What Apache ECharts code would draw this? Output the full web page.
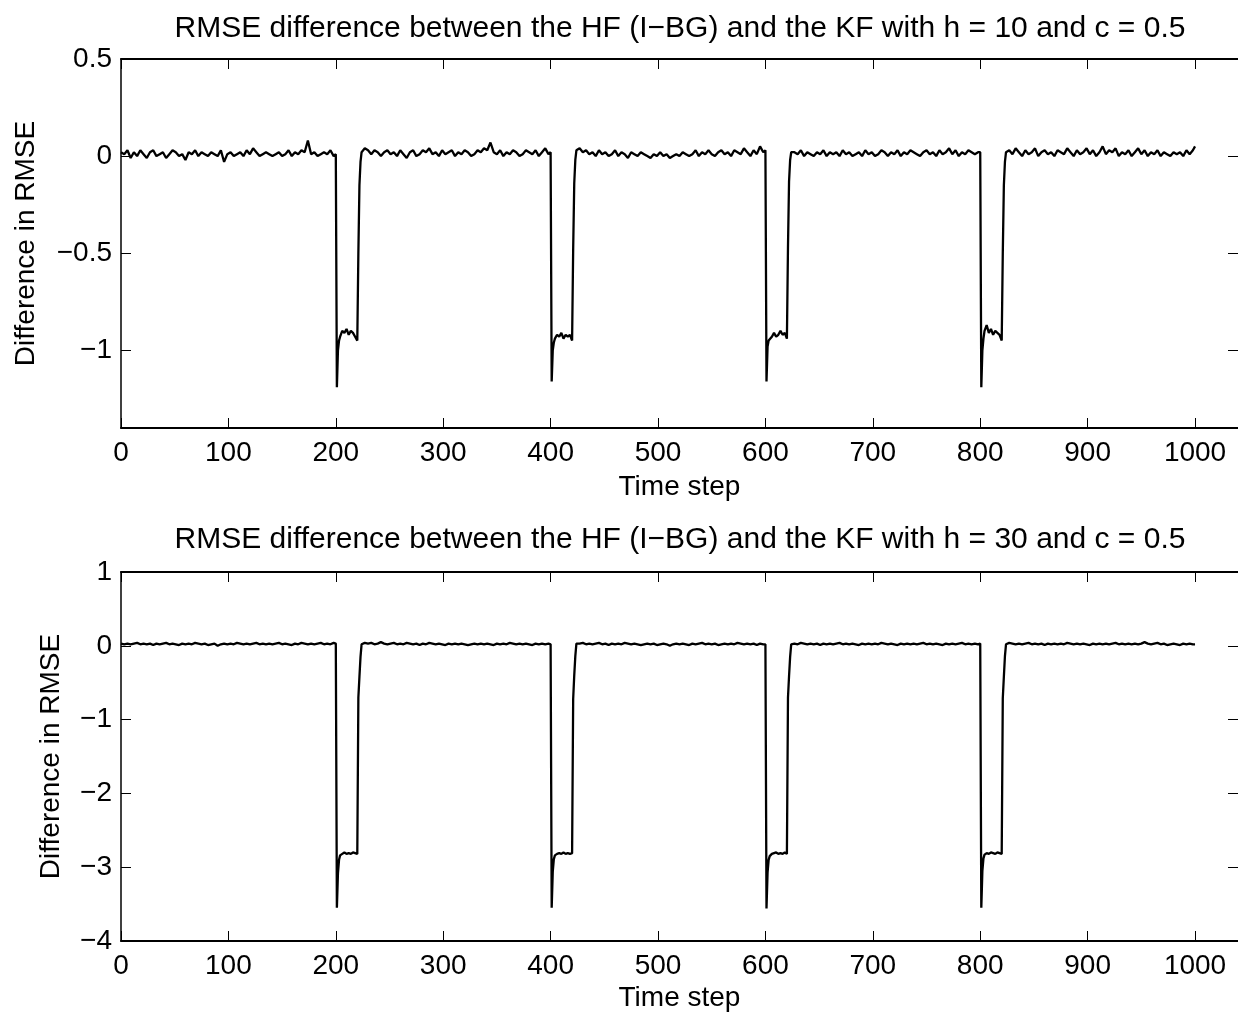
<!DOCTYPE html>
<html><head><meta charset="utf-8">
<script src="https://cdn.jsdelivr.net/npm/echarts@6/dist/echarts.min.js"></script>
<style>html,body{margin:0;padding:0;background:#fff}#c{width:1238px;height:1015px}</style>
</head><body><div id="c"></div>
<script>
const timeSteps=[0,3,6,9,12,15,18,21,24,27,30,33,36,39,42,45,48,51,54,57,60,63,66,69,72,75,78,81,84,87,90,93,96,99,102,105,108,111,114,117,120,123,126,129,132,135,138,141,144,147,150,153,156,159,162,165,168,171,174,177,180,183,186,189,192,195,198,
200,201,202,203,204,206,208,210,212,214,216,218,220,221,222,223,224,
227,230,233,236,239,242,245,248,251,254,257,260,263,266,269,272,275,278,281,284,287,290,293,296,299,302,305,308,311,314,317,320,323,326,329,332,335,338,341,344,347,350,353,356,359,362,365,368,371,374,377,380,383,386,389,392,395,398,
400,401,402,403,404,406,408,410,412,414,416,418,420,421,422,423,424,
427,430,433,436,439,442,445,448,451,454,457,460,463,466,469,472,475,478,481,484,487,490,493,496,499,502,505,508,511,514,517,520,523,526,529,532,535,538,541,544,547,550,553,556,559,562,565,568,571,574,577,580,583,586,589,592,595,598,
600,601,602,603,604,606,608,610,612,614,616,618,620,621,622,623,624,
627,630,633,636,639,642,645,648,651,654,657,660,663,666,669,672,675,678,681,684,687,690,693,696,699,702,705,708,711,714,717,720,723,726,729,732,735,738,741,744,747,750,753,756,759,762,765,768,771,774,777,780,783,786,789,792,795,798,
800,801,802,803,804,806,808,810,812,814,816,818,820,821,822,823,824,
827,830,833,836,839,842,845,848,851,854,857,860,863,866,869,872,875,878,881,884,887,890,893,896,899,902,905,908,911,914,917,920,923,926,929,932,935,938,941,944,947,950,953,956,959,962,965,968,971,974,977,980,983,986,989,992,995,998,1000];

const diffH10=[0.02,0.01,0.03,-0.01,0.02,0.00,0.03,0.01,-0.01,0.02,
0.03,0.00,0.01,0.02,-0.01,0.01,0.03,0.02,0.00,0.01,
-0.02,0.02,0.01,0.03,0.00,0.02,0.01,0.00,0.02,0.01,
0.00,0.03,-0.03,0.01,0.02,0.00,0.01,0.02,0.00,0.03,
0.01,0.04,0.02,0.00,0.01,0.02,0.01,0.00,0.01,0.02,
0.00,0.01,0.03,0.00,0.02,0.01,0.03,0.02,0.08,0.01,
0.02,0.00,0.01,0.02,0.01,0.03,0.00,
0.01,-1.19,-1.00,-0.95,-0.93,-0.90,-0.91,-0.89,-0.92,-0.90,-0.91,-0.93,-0.95,-0.50,-0.15,-0.03,0.02,
0.04,0.03,0.01,0.03,0.02,0.00,0.02,0.03,0.01,0.02,
0.00,0.03,0.01,-0.01,0.02,0.03,0.00,0.01,0.03,0.02,
0.04,0.01,0.02,0.00,0.03,0.01,0.02,0.03,0.00,0.02,
0.01,0.03,0.02,0.00,0.01,0.03,0.02,0.04,0.03,0.07,
0.02,0.01,0.03,0.00,0.02,0.01,0.03,0.02,0.00,0.01,
0.03,0.02,0.01,0.03,0.00,0.02,0.04,0.01,
0.02,-1.16,-1.00,-0.96,-0.94,-0.92,-0.93,-0.91,-0.94,-0.92,-0.93,-0.92,-0.95,-0.48,-0.14,-0.02,0.03,
0.04,0.02,0.03,0.01,0.02,0.00,0.03,0.01,0.02,0.00,
0.01,0.03,0.00,0.02,0.01,-0.01,0.02,0.01,0.00,0.02,
0.01,0.00,-0.01,0.01,0.00,0.02,0.00,0.01,-0.01,0.00,
0.01,0.00,0.02,0.01,0.00,0.01,0.03,0.00,0.02,0.01,
0.03,0.01,0.00,0.02,0.03,0.01,0.02,0.00,0.03,0.02,
0.01,0.04,0.02,0.00,0.03,0.01,0.05,0.02,
0.03,-1.16,-0.98,-0.95,-0.94,-0.93,-0.91,-0.93,-0.92,-0.90,-0.92,-0.91,-0.94,-0.47,-0.13,-0.02,0.02,
0.02,0.01,0.03,0.00,0.02,0.01,0.00,0.02,0.01,0.03,
0.00,0.02,0.01,0.02,0.00,0.03,0.01,0.02,0.00,0.01,
0.02,0.00,0.03,0.01,0.02,0.00,0.01,0.03,0.02,0.00,
0.02,0.01,0.03,0.00,0.02,0.01,0.03,0.02,0.01,0.00,
0.02,0.03,0.01,0.02,0.00,0.03,0.01,0.02,0.04,0.01,
0.03,0.00,0.02,0.01,0.03,0.02,0.01,0.02,
0.02,-1.19,-1.00,-0.94,-0.90,-0.87,-0.91,-0.89,-0.92,-0.90,-0.91,-0.92,-0.95,-0.50,-0.15,-0.03,0.02,
0.03,0.01,0.04,0.02,0.00,0.03,0.01,0.02,0.04,0.00,
0.02,0.03,0.01,0.02,0.00,0.03,0.02,0.01,0.04,0.02,
0.00,0.03,0.01,0.02,0.04,0.01,0.03,0.00,0.02,0.05,
0.01,0.03,0.02,0.04,0.00,0.02,0.01,0.03,0.00,0.02,
0.04,0.01,0.03,0.00,0.02,0.01,0.03,0.00,0.02,0.01,
0.00,0.02,0.01,0.02,0.00,0.03,0.01,0.03,0.05];

const diffH30=[0.03,0.02,0.03,0.02,0.03,0.04,0.02,0.03,0.02,0.03,
0.01,0.03,0.02,0.03,0.04,0.02,0.03,0.02,0.01,0.03,
0.02,0.03,0.02,0.04,0.03,0.02,0.03,0.01,0.02,0.03,
0.00,0.02,0.03,0.02,0.03,0.02,0.04,0.03,0.02,0.03,
0.02,0.03,0.04,0.02,0.03,0.02,0.03,0.02,0.03,0.04,
0.02,0.03,0.02,0.01,0.03,0.02,0.04,0.03,0.02,0.03,
0.02,0.03,0.04,0.02,0.03,0.02,0.04,
0.03,-3.55,-3.08,-2.90,-2.84,-2.82,-2.80,-2.82,-2.81,-2.82,-2.80,-2.81,-2.82,-0.70,-0.42,-0.15,0.02,
0.04,0.03,0.04,0.02,0.03,0.05,0.03,0.02,0.03,0.04,
0.02,0.03,0.02,0.04,0.03,0.02,0.03,0.01,0.03,0.02,
0.04,0.03,0.02,0.03,0.02,0.01,0.03,0.02,0.03,0.02,
0.03,0.02,0.01,0.02,0.03,0.02,0.03,0.02,0.03,0.02,
0.01,0.03,0.02,0.03,0.02,0.04,0.03,0.02,0.03,0.02,
0.03,0.02,0.01,0.03,0.02,0.03,0.02,0.03,
0.02,-3.55,-3.06,-2.89,-2.84,-2.82,-2.81,-2.82,-2.80,-2.82,-2.81,-2.82,-2.81,-0.72,-0.40,-0.14,0.03,
0.03,0.04,0.02,0.03,0.02,0.03,0.04,0.02,0.03,0.01,
0.03,0.02,0.03,0.02,0.04,0.03,0.02,0.03,0.02,0.01,
0.02,0.03,0.02,0.03,0.01,0.02,0.03,0.02,0.00,0.02,
0.03,0.02,0.03,0.02,0.01,0.03,0.02,0.03,0.04,0.02,
0.03,0.02,0.03,0.01,0.02,0.03,0.02,0.03,0.02,0.04,
0.03,0.02,0.03,0.02,0.03,0.01,0.03,0.02,
0.02,-3.56,-3.07,-2.90,-2.85,-2.82,-2.81,-2.80,-2.82,-2.81,-2.82,-2.80,-2.82,-0.70,-0.41,-0.15,0.02,
0.03,0.02,0.04,0.03,0.02,0.03,0.02,0.03,0.01,0.03,
0.02,0.03,0.02,0.03,0.04,0.02,0.03,0.02,0.03,0.02,
0.01,0.03,0.02,0.03,0.02,0.03,0.02,0.04,0.03,0.02,
0.03,0.02,0.01,0.03,0.02,0.03,0.02,0.03,0.02,0.03,
0.04,0.02,0.03,0.02,0.03,0.02,0.01,0.03,0.02,0.03,
0.02,0.03,0.04,0.02,0.03,0.02,0.03,0.02,
0.03,-3.55,-3.05,-2.88,-2.83,-2.81,-2.82,-2.80,-2.81,-2.82,-2.80,-2.81,-2.82,-0.71,-0.42,-0.14,0.02,
0.04,0.03,0.02,0.03,0.02,0.03,0.04,0.02,0.03,0.02,
0.03,0.01,0.03,0.02,0.03,0.02,0.03,0.02,0.04,0.03,
0.02,0.03,0.02,0.03,0.02,0.01,0.03,0.02,0.03,0.02,
0.03,0.02,0.03,0.04,0.02,0.03,0.02,0.03,0.02,0.03,
0.02,0.03,0.05,0.03,0.02,0.03,0.04,0.02,0.03,0.01,
0.02,0.03,0.02,0.01,0.03,0.02,0.03,0.02,0.02];

const xTicks=[0,100,200,300,400,500,600,700,800,900,1000];
const yTicksTop=[-1,-0.5,0,0.5];
const yTicksBottom=[-4,-3,-2,-1,0,1];
const titleTop='RMSE difference between the HF (I\u2212BG) and the KF with h = 10 and c = 0.5';
const titleBottom='RMSE difference between the HF (I\u2212BG) and the KF with h = 30 and c = 0.5';
const xName='Time step';
const yName='Difference in RMSE';

const FONT='"Liberation Sans", Arial, Helvetica, sans-serif';
const FS=28;
const fmt=v=>String(v).replace('-','\u2212');
const txt={color:'#000',fontSize:FS,fontFamily:FONT};

function xPair(gi,gap){
  const base={type:'value',gridIndex:gi,min:0,max:1040,splitLine:{show:false},
    axisLine:{show:true,onZero:false,lineStyle:{color:'#000',width:2}},
    axisTick:{show:true,inside:true,length:10,customValues:xTicks,lineStyle:{color:'#000',width:1}}};
  return [
    Object.assign({},base,{position:'bottom',axisLabel:Object.assign({customValues:xTicks,margin:11,formatter:v=>String(v)},txt),
      name:xName,nameLocation:'middle',nameGap:gap,nameTextStyle:txt}),
    Object.assign({},base,{position:'top',axisLabel:{show:false}})
  ];
}
function yPair(gi,min,max,ticks,gap){
  const base={type:'value',gridIndex:gi,min:min,max:max,splitLine:{show:false},
    axisTick:{show:true,inside:true,length:10,customValues:ticks,lineStyle:{color:'#000',width:1}}};
  return [
    Object.assign({},base,{position:'left',axisLine:{show:true,onZero:false,lineStyle:{color:'#000',width:1.5}},
      axisLabel:Object.assign({customValues:ticks,margin:9,formatter:fmt},txt),
      name:yName,nameLocation:'middle',nameGap:gap,nameRotate:90,nameTextStyle:txt}),
    Object.assign({},base,{position:'right',axisLine:{show:false,onZero:false},axisLabel:{show:false}})
  ];
}

const chart=echarts.init(document.getElementById('c'),null,{renderer:'canvas'});
const lineStyle={color:'#000',width:2.3};
const titleStyle=Object.assign({},txt,{fontSize:30,fontWeight:'normal'});
chart.setOption({
  animation:false,
  backgroundColor:'#fff',
  title:[
    {text:titleTop,left:675,top:9,textAlign:'center',textStyle:titleStyle},
    {text:titleBottom,left:675,top:520,textAlign:'center',textStyle:titleStyle}
  ],
  grid:[
    {left:121,top:59,width:1117,height:369,containLabel:false,outerBoundsMode:'none'},
    {left:121,top:572,width:1117,height:369,containLabel:false,outerBoundsMode:'none'}
  ],
  xAxis:[].concat(xPair(0,45),xPair(1,43)),
  yAxis:[].concat(yPair(0,-1.4,0.5,yTicksTop,81),yPair(1,-4,1,yTicksBottom,56)),
  series:[
    {type:'line',xAxisIndex:0,yAxisIndex:0,symbol:'none',lineStyle:lineStyle,
      data:timeSteps.map((t,i)=>[t,diffH10[i]])},
    {type:'line',xAxisIndex:2,yAxisIndex:2,symbol:'none',lineStyle:lineStyle,
      data:timeSteps.map((t,i)=>[t,diffH30[i]])}
  ]
});
</script></body></html>
